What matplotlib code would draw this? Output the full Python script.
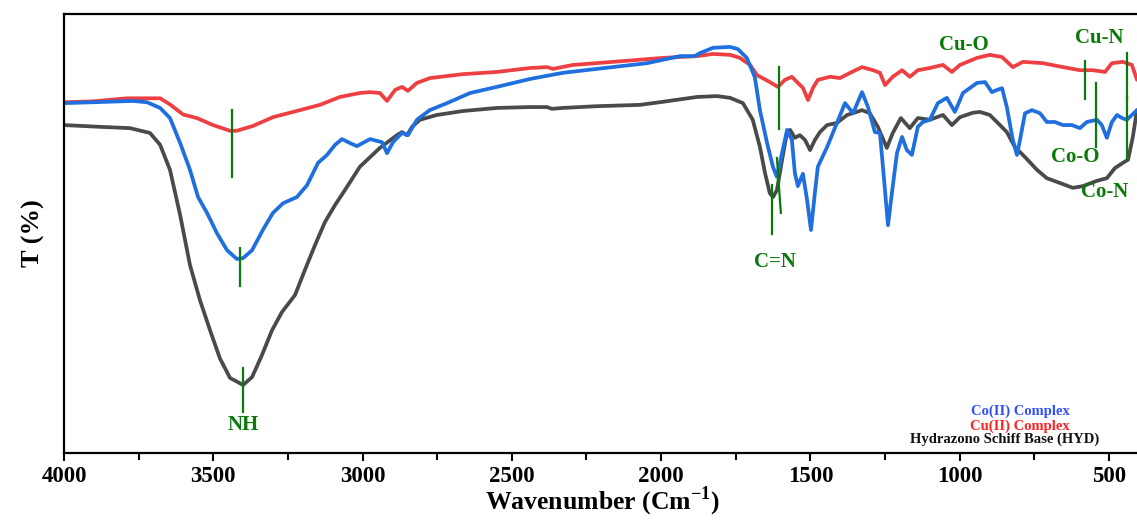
import matplotlib
matplotlib.use("Agg")
import matplotlib.pyplot as plt
from matplotlib.ticker import MultipleLocator

plt.rcParams['font.family'] = ['Liberation Serif', 'DejaVu Serif']
plt.rcParams['font.weight'] = 'bold'
plt.rcParams['mathtext.fontset'] = 'custom'
plt.rcParams['mathtext.rm'] = 'Liberation Serif'
plt.rcParams['mathtext.bf'] = 'Liberation Serif:bold'

# ---------------- data (wavenumber cm-1, transmittance arbitrary %) ----------------
hyd_wn = [4000, 3880, 3779, 3712, 3678, 3645, 3611, 3578, 3545, 3511, 3478, 3444, 3400, 3370,
          3337, 3303, 3270, 3226, 3193, 3159, 3126, 3092, 3059, 3009, 2942, 2885, 2868, 2851,
          2834, 2808, 2751, 2664, 2550, 2440, 2382, 2366, 2329, 2215, 2071, 1994, 1880, 1813,
          1769, 1726, 1693, 1669, 1652, 1636, 1625, 1612, 1595, 1578, 1568, 1552, 1535, 1518,
          1501, 1485, 1468, 1444, 1411, 1377, 1327, 1301, 1274, 1244, 1224, 1197, 1167, 1140,
          1100, 1056, 1026, 999, 956, 932, 899, 865, 842, 815, 781, 741, 708, 664, 621, 587,
          540, 507, 480, 453, 436, 420, 406]
hyd_t = [74.7, 74.3, 74.0, 72.9, 70.2, 64.5, 54.2, 42.8, 34.9, 28.0, 21.6, 17.1, 15.5, 17.3,
         22.3, 28.0, 32.1, 36.0, 41.7, 47.4, 52.6, 56.5, 59.9, 65.2, 69.5, 72.4, 73.1, 72.4,
         74.3, 75.9, 77.0, 77.9, 78.6, 78.8, 78.8, 78.4, 78.6, 79.0, 79.3, 80.0, 81.1, 81.3,
         80.9, 79.7, 75.9, 69.7, 63.8, 59.2, 58.3, 59.9, 66.7, 73.1, 73.6, 71.8, 72.4, 71.3,
         69.0, 71.3, 73.1, 74.7, 75.2, 77.0, 78.1, 77.4, 74.3, 69.5, 72.9, 76.3, 74.0, 76.3,
         75.9, 77.0, 74.7, 76.5, 77.5, 77.7, 77.0, 74.7, 73.1, 69.7, 67.4, 64.5, 62.6, 61.5,
         60.4, 60.8, 62.0, 62.6, 64.9, 66.1, 66.8, 72.0, 78.1]

co_wn = [4000, 3903, 3769, 3722, 3678, 3645, 3611, 3578, 3551, 3521, 3488, 3454, 3421, 3400,
         3370, 3334, 3300, 3266, 3220, 3186, 3149, 3119, 3092, 3069, 3042, 3019, 2975, 2935,
         2918, 2898, 2868, 2848, 2818, 2775, 2717, 2640, 2550, 2439, 2329, 2215, 2047, 1937,
         1887, 1870, 1826, 1769, 1743, 1713, 1686, 1669, 1645, 1625, 1612, 1595, 1578, 1562,
         1552, 1542, 1525, 1511, 1498, 1485, 1475, 1444, 1411, 1384, 1357, 1327, 1307, 1284,
         1267, 1254, 1240, 1227, 1210, 1193, 1177, 1160, 1140, 1123, 1100, 1073, 1043, 1016,
         989, 942, 915, 892, 875, 858, 842, 822, 808, 798, 781, 758, 731, 708, 681, 654, 624,
         597, 574, 540, 524, 507, 490, 473, 456, 440, 423, 406]
co_t = [79.7, 79.9, 80.2, 79.9, 78.6, 76.3, 70.6, 64.5, 58.3, 54.7, 50.1, 46.2, 44.2, 44.4,
        46.2, 50.8, 54.7, 56.9, 58.3, 61.0, 66.1, 67.9, 70.2, 71.5, 70.6, 69.9, 71.5, 70.8,
        68.3, 70.8, 72.9, 72.4, 75.9, 78.1, 79.7, 82.0, 83.4, 85.2, 86.6, 87.5, 88.8, 90.4,
        90.4, 91.1, 92.3, 92.5, 92.0, 90.0, 85.6, 78.1, 70.6, 65.1, 62.9, 68.3, 73.6, 71.3,
        63.8, 60.8, 63.6, 57.6, 50.8, 59.2, 65.2, 69.7, 75.2, 79.7, 77.4, 82.2, 78.8, 73.1,
        72.9, 62.9, 51.9, 59.2, 68.3, 72.0, 69.0, 67.9, 74.3, 75.4, 75.9, 79.7, 80.9, 77.7,
        82.0, 84.3, 84.5, 82.2, 82.7, 83.1, 78.8, 71.3, 67.9, 71.3, 77.4, 78.1, 77.4, 75.4,
        75.4, 74.7, 74.7, 74.0, 75.4, 75.9, 74.7, 71.8, 75.4, 77.0, 76.3, 75.9, 77.0, 78.1]

cu_wn = [4000, 3903, 3789, 3678, 3645, 3601, 3555, 3501, 3444, 3421, 3367, 3300, 3210, 3143,
         3076, 3009, 2975, 2942, 2918, 2891, 2868, 2848, 2818, 2774, 2664, 2550, 2439, 2382,
         2362, 2295, 2161, 1994, 1880, 1826, 1769, 1736, 1702, 1679, 1636, 1609, 1585, 1562,
         1542, 1525, 1508, 1491, 1475, 1434, 1401, 1367, 1327, 1290, 1267, 1250, 1224, 1193,
         1167, 1140, 1100, 1056, 1026, 999, 942, 899, 858, 822, 788, 721, 654, 597, 554, 513,
         490, 453, 423, 406]
cu_t = [79.9, 80.1, 80.8, 80.8, 79.4, 77.1, 76.3, 74.7, 73.4, 73.4, 74.5, 76.5, 78.1, 79.3,
        81.1, 82.0, 82.2, 82.0, 80.2, 82.7, 83.4, 82.5, 84.3, 85.4, 86.3, 86.8, 87.7, 87.9,
        87.5, 88.4, 89.1, 90.0, 90.4, 90.9, 90.7, 90.0, 88.4, 86.1, 84.5, 83.4, 85.0, 85.7,
        84.3, 83.2, 80.4, 83.2, 85.0, 85.7, 85.4, 86.6, 87.9, 87.2, 86.6, 83.8, 85.7, 87.2,
        85.7, 87.2, 87.7, 88.4, 86.8, 88.4, 90.0, 90.7, 90.2, 87.9, 89.1, 88.8, 87.9, 87.2,
        87.2, 86.8, 88.8, 89.1, 88.4, 85.0]

x_ticks = [4000, 3500, 3000, 2500, 2000, 1500, 1000, 500]
series_labels = ["Co(II) Complex", "Cu(II) Complex", "Hydrazono Schiff Base (HYD)"]

# annotation marker lines: (wn_start, t_start, wn_end, t_end)
marker_lines = [
    (3437, 78.1, 3437, 62.9),
    (3411, 46.7, 3411, 38.0),
    (3401, 19.4, 3401, 9.3),
    (1605, 87.9, 1605, 73.8),
    (1612, 67.2, 1599, 54.7),
    (1629, 61.0, 1629, 49.9),
    (580, 89.3, 580, 80.6),
    (440, 91.1, 440, 80.4),
    (544, 84.3, 544, 69.7),
    (440, 81.1, 440, 66.7),
]
band_labels = ["NH", "C=N", "Cu-O", "Cu-N", "Co-O", "Co-N"]
band_wn = [3401, 1619, 985, 534, 614, 513]
band_t = [6.4, 43.5, 92.9, 94.5, 67.4, 59.5]

# ---------------- figure ----------------
W, H = 1137, 521
fig = plt.figure(figsize=(W / 100, H / 100), dpi=100)
ax = fig.add_axes([64 / W, (H - 453) / H, 1 - 64 / W, (453 - 14) / H])

c_blue = "#1f6fdf"
c_red = "#ee4043"
c_black = "#4a4a4a"
green = "#0a7a0a"

ax.plot(hyd_wn, hyd_t, color=c_black, lw=2.7, solid_capstyle='round', solid_joinstyle='round')
ax.plot(cu_wn, cu_t, color=c_red, lw=2.7, solid_capstyle='round', solid_joinstyle='round')
ax.plot(co_wn, co_t, color=c_blue, lw=2.7, solid_capstyle='round', solid_joinstyle='round')

for (x0, y0, x1, y1) in marker_lines:
    ax.plot([x0, x1], [y0, y1], color=green, lw=1.6)

for lab, xw, yt in zip(band_labels, band_wn, band_t):
    ax.text(xw, yt, lab, color=green, fontsize=15, fontweight='bold',
            ha='center', va='center', clip_on=False)

ax.set_xlim(4000, 406)
ax.set_ylim(0, 100)
ax.set_xticks(x_ticks)
ax.xaxis.set_minor_locator(MultipleLocator(250))
ax.set_yticks([])
ax.tick_params(axis='x', which='major', direction='out', length=6, width=1.5,
               labelsize=16.5, pad=3)
ax.tick_params(axis='x', which='minor', direction='out', length=5, width=1.5)
for lbl in ax.get_xticklabels():
    lbl.set_fontweight('bold')

for s in ['left', 'bottom', 'top']:
    ax.spines[s].set_linewidth(1.6)
    ax.spines[s].set_color('black')
ax.spines['right'].set_visible(False)

fig.text(602 / W, 3 / H, "Wavenumber (Cm$^{\\mathbf{-1}}$)", fontsize=18.5, fontweight='bold',
         ha='center', va='bottom')
ax.set_ylabel("T (%)", fontsize=19, fontweight='bold', labelpad=14)

leg_colors = ["#3050ff", "#ff2222", "#111111"]
leg_pos = [(0.891, 0.096), (0.891, 0.062), (0.877, 0.032)]
for lab, col, (px, py) in zip(series_labels, leg_colors, leg_pos):
    ax.text(px, py, lab, color=col, fontsize=10.5, fontweight='bold',
            ha='center', va='center', transform=ax.transAxes)

fig.savefig("out.png", dpi=100)
